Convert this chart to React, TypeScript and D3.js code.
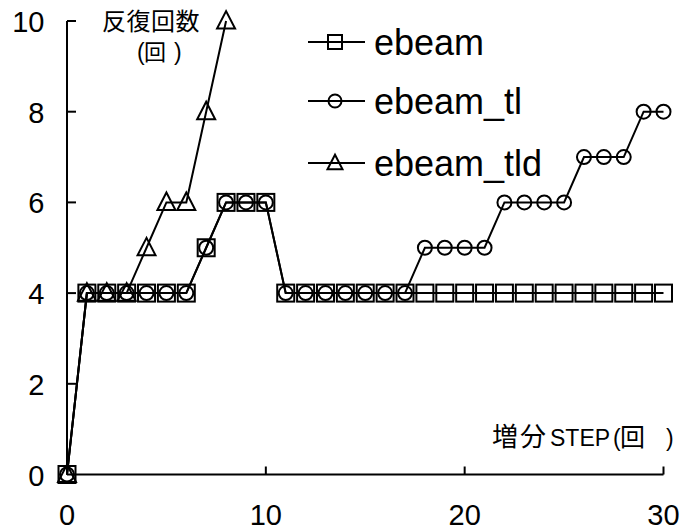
import React from "react";
import * as d3 from "d3";

const steps = d3.range(0, 31);
const ebeam = [0, 4, 4, 4, 4, 4, 4, 5, 6, 6, 6, 4, 4, 4, 4, 4, 4, 4, 4, 4, 4, 4, 4, 4, 4, 4, 4, 4, 4, 4, 4];
const ebeamTl = [0, 4, 4, 4, 4, 4, 4, 5, 6, 6, 6, 4, 4, 4, 4, 4, 4, 4, 5, 5, 5, 5, 6, 6, 6, 6, 7, 7, 7, 8, 8];
const ebeamTld = [0, 4, 4, 4, 5, 6, 6, 8, 10];
const xTicks = [0, 10, 20, 30];
const yTicks = [0, 2, 4, 6, 8, 10];
const seriesNames = ["ebeam", "ebeam_tl", "ebeam_tld"];

const W = 695;
const H = 531;
const FONT = "'Liberation Sans', Arial, 'Noto Sans CJK JP', sans-serif";
const CJK = "'Noto Sans CJK JP', 'Liberation Sans', sans-serif";

const x = d3.scaleLinear().domain([0, 30]).range([67, 663.5]);
const y = d3.scaleLinear().domain([0, 10]).range([474.5, 21]);

type Shape = "square" | "circle" | "triangle";

function Marker({ cx, cy, shape, size }: { cx: number; cy: number; shape: Shape; size: number }) {
  const common = { fill: "none", stroke: "#000", strokeWidth: 2 };
  if (shape === "square") {
    return <rect x={cx - size / 2} y={cy - size / 2} width={size} height={size} {...common} />;
  }
  if (shape === "circle") {
    return <circle cx={cx} cy={cy} r={size / 2} {...common} />;
  }
  const h = size;
  const pts = `${cx},${cy - h * 0.55} ${cx - size / 2},${cy + h * 0.42} ${cx + size / 2},${cy + h * 0.42}`;
  return <polygon points={pts} {...common} />;
}

export default function App() {
  const series: { name: string; values: number[]; shape: Shape; size: number }[] = [
    { name: seriesNames[0], values: ebeam, shape: "square", size: 17 },
    { name: seriesNames[1], values: ebeamTl, shape: "circle", size: 14 },
    { name: seriesNames[2], values: ebeamTld, shape: "triangle", size: 18 },
  ];
  const line = d3
    .line<number>()
    .x((_, i) => x(steps[i]))
    .y((d) => y(d));

  const legendY = [42, 101, 163];
  const legendShapeSize = [14, 13, 15];

  return (
    <svg
      width={W}
      height={H}
      style={{ position: "absolute", left: 0, top: 0, background: "#fff" }}
      fontFamily={FONT}
    >
      <rect x={0} y={0} width={W} height={H} fill="#fff" />
      {/* axes */}
      <line x1={x(0)} x2={x(0)} y1={y(10)} y2={y(0)} stroke="#000" strokeWidth={2} />
      <line x1={x(0)} x2={x(30)} y1={y(0)} y2={y(0)} stroke="#000" strokeWidth={2} />
      {yTicks.filter((t) => t > 0).map((t) => (
        <line key={"yt" + t} x1={x(0)} x2={x(0) + 9} y1={y(t)} y2={y(t)} stroke="#000" strokeWidth={2} />
      ))}
      {xTicks.filter((t) => t > 0).map((t) => (
        <line key={"xt" + t} x1={x(t)} x2={x(t)} y1={y(0)} y2={y(0) - 8} stroke="#000" strokeWidth={2} />
      ))}
      {yTicks.map((t) => (
        <text key={"yl" + t} x={44.5} y={y(t) + 11} textAnchor="end" fontSize={29} fill="#000">
          {t}
        </text>
      ))}
      {xTicks.map((t) => (
        <text key={"xl" + t} x={x(t)} y={525} textAnchor="middle" fontSize={29} fill="#000">
          {t}
        </text>
      ))}
      {/* axis titles */}
      <text x={151} y={30} textAnchor="middle" fontSize={24} fontFamily={CJK} letterSpacing={0.5} fill="#000">
        反復回数
      </text>
      <text y={60} fontSize={23} fill="#000">
        <tspan x={137}>(</tspan>
        <tspan x={144} fontFamily={CJK} fontSize={22}>回</tspan>
        <tspan x={174}>)</tspan>
      </text>
      <text y={446} fontSize={23} fill="#000">
        <tspan x={492} fontFamily={CJK} fontSize={26} letterSpacing={2}>増分</tspan>
        <tspan x={550} fontFamily={FONT}>STEP</tspan>
        <tspan x={613} fontFamily={FONT}>(</tspan>
        <tspan x={620} fontFamily={CJK} fontSize={25}>回</tspan>
        <tspan x={666} fontFamily={FONT}>)</tspan>
      </text>
      {/* series */}
      {series.map((s) => (
        <g key={s.name}>
          <path d={line(s.values) || ""} fill="none" stroke="#000" strokeWidth={2} />
          {s.values.map((v, i) => (
            <Marker key={i} cx={x(steps[i])} cy={y(v)} shape={s.shape} size={s.size} />
          ))}
        </g>
      ))}
      {/* legend */}
      {series.map((s, i) => (
        <g key={"lg" + s.name}>
          <line x1={308} x2={365} y1={legendY[i]} y2={legendY[i]} stroke="#000" strokeWidth={2} />
          <Marker cx={335} cy={legendY[i]} shape={s.shape} size={legendShapeSize[i]} />
          <text x={374} y={legendY[i] + 13} fontSize={36} fill="#000">
            {s.name}
          </text>
        </g>
      ))}
    </svg>
  );
}
